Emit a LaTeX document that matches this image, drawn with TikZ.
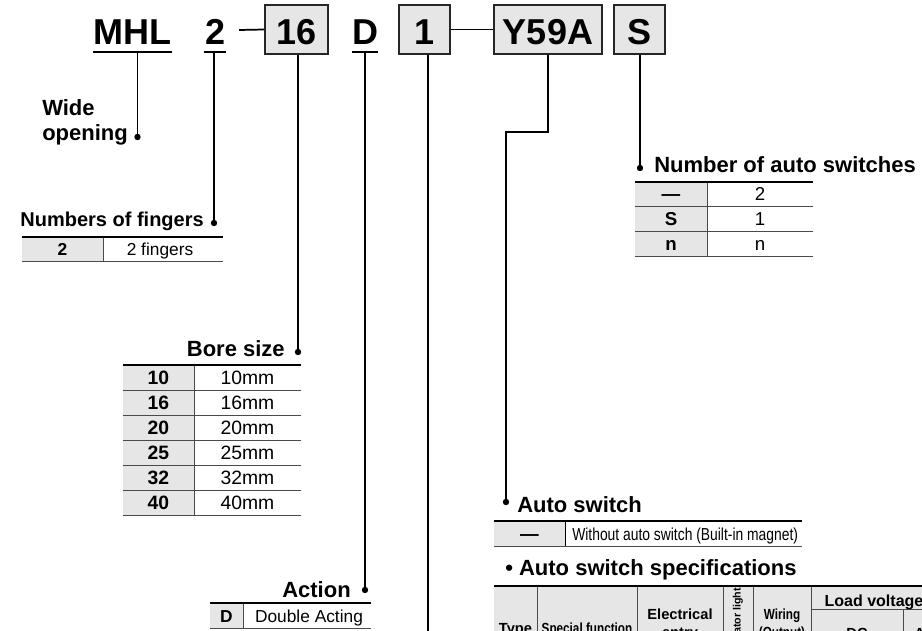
\documentclass[tikz,border=0pt]{standalone}
\usepackage{fontspec}
\setmainfont{Liberation Sans}
\definecolor{cellgray}{HTML}{E6E6E6}
\definecolor{rulegray}{HTML}{4A4A4A}
\newcommand\fHdr{\fontsize{27}{27}\selectfont\bfseries}
\newcommand\fHead{\fontsize{16.5}{18}\selectfont\bfseries}
\newcommand\fHeadS{\fontsize{15}{16}\selectfont\bfseries}
\newcommand\fCellR{\fontsize{13}{14}\selectfont}
\newcommand\fCellB{\fontsize{13}{14}\selectfont\bfseries}
\newcommand\fBoreR{\fontsize{14.5}{15}\selectfont}
\newcommand\fBoreB{\fontsize{14.5}{15}\selectfont\bfseries}
\newcommand\fNumR{\fontsize{14}{15}\selectfont}
\newcommand\fNumB{\fontsize{14}{15}\selectfont\bfseries}
\newcommand\fSpec{\fontsize{11}{12}\selectfont\bfseries}
\newcommand\fSpecL{\fontsize{12}{13}\selectfont\bfseries}
\newcommand\fSpecXS{\fontsize{8}{9}\selectfont\bfseries}
\begin{document}
\begin{tikzpicture}[x=0.75pt,y=-0.75pt,
  hdr/.style={font=\fHdr, inner sep=0pt},
  codebox/.style={draw=black!85, line width=1.1pt, fill=cellgray, inner sep=0pt,
    minimum height=36.75pt, font=\fHdr, text height=23pt, text depth=0pt},
  conn/.style={line width=1.3pt},
  uline/.style={line width=1.2pt},
  dotn/.style={circle, fill=black, inner sep=0pt, minimum size=4.8pt},
  head/.style={font=\fHead, inner sep=0pt},
  toprule/.style={line width=1.3pt},
  midrule/.style={line width=0.75pt, draw=rulegray},
  cell/.style={inner sep=0pt, anchor=base},
  spec/.style={inner sep=0pt, anchor=base, font=\fSpec},
]
\useasboundingbox (0,0) rectangle (922,631);
\clip (0,0) rectangle (922,631);

% ---------- model code ----------
\node[hdr, anchor=base west] (mhl) at (93,45) {MHL};
\node[hdr, anchor=base] (two) at (216,45) {2};
\node[codebox, minimum width=47.25pt] (b16) at (296.5,29.5) {16};
\node[hdr, anchor=base] (dd) at (365,45) {D};
\node[codebox, minimum width=38.25pt] (b1) at (424.5,29.5) {1};
\node[codebox, minimum width=81pt] (bY) at (548,29.5) {Y59A};
\node[codebox, minimum width=38.25pt] (bS) at (639.5,29.5) {S};

\coordinate (mhlU) at ([yshift=-5.25pt]mhl.base);
\coordinate (twoU) at ([yshift=-5.25pt]two.base);
\coordinate (ddU) at ([yshift=-5.25pt]dd.base);
\draw[uline] ([yshift=-5.25pt]mhl.base west) -- ([yshift=-5.25pt]mhl.base east);
\draw[uline] ([yshift=-5.25pt,xshift=-1pt]two.base west) -- ([yshift=-5.25pt]two.base east);
\draw[uline] ([yshift=-5.25pt]dd.base west) -- ([yshift=-5.25pt]dd.base east);

\coordinate (dashL) at (239,30);
\draw[conn] (dashL) -- (b16.west);
\draw[conn] (b1.east) -- (bY.west);

% ---------- dots ----------
\node[dotn] (dWide) at (137.5,137) {};
\node[dotn] (dFing) at (214,223) {};
\node[dotn] (dBore) at (298,352) {};
\node[dotn] (dAct) at (365,590) {};
\node[dotn] (dNum) at (640,168) {};
\node[dotn] (dAuto) at (506,502) {};
\coordinate (bendY) at (506,132);
\coordinate (endOne) at (428,640);

\draw[conn] (dWide) -- (dWide |- mhlU);
\draw[conn] (dFing) -- (dFing |- twoU);
\draw[conn] (dBore) -- (dBore |- b16.south);
\draw[conn] (dAct) -- (dAct |- ddU);
\draw[conn] (endOne) -- (endOne |- b1.south);
\draw[conn] (bY.south) |- (bendY) -- (dAuto);
\draw[conn] (dNum) -- (dNum |- bS.south);

% ---------- headings ----------
\node[head, anchor=base west] (hWide1) at (42,116) {Wide};
\node[head, anchor=base west] (hWide2) at (42,141) {opening};
\node[head, font=\fHeadS, anchor=base east] (hFing) at (204,227) {Numbers of fingers};
\node[head, anchor=base east] (hBore) at (285,357) {Bore size};
\node[head, anchor=base east] (hAct) at (351,597) {Action};
\node[head, anchor=base west] (hNum) at (654,173) {Number of auto switches};
\node[head, anchor=base west] (hAuto) at (517,512) {Auto switch};
\node[head, anchor=base west] (hSpec) at (505,575) {• Auto switch specifications};

% ---------- fingers table ----------
\fill[cellgray] (22,237) rectangle (103,262);
\draw[midrule] (103,237) -- (103,262);
\draw[midrule] (22,262) -- (223,262);
\draw[toprule] (22,237) -- (223,237);
\node[cell, font=\fCellB] (f1k) at (62.5,256) {2};
\node[cell, font=\fCellR] (f1v) at (160,256) {2 fingers};

% ---------- bore table ----------
\fill[cellgray] (123,365) rectangle (194,515);
\draw[midrule] (194,365) -- (194,515);
\foreach \r in {390,415,440,465,490,515} \draw[midrule] (123,\r) -- (301,\r);
\draw[toprule] (123,365) -- (301,365);
\node[cell, font=\fBoreB] (bk1) at (158.5,384.5) {10};
\node[cell, font=\fBoreR] (bv1) at (247.5,384.5) {10mm};
\node[cell, font=\fBoreB] (bk2) at (158.5,409.5) {16};
\node[cell, font=\fBoreR] (bv2) at (247.5,409.5) {16mm};
\node[cell, font=\fBoreB] (bk3) at (158.5,434.5) {20};
\node[cell, font=\fBoreR] (bv3) at (247.5,434.5) {20mm};
\node[cell, font=\fBoreB] (bk4) at (158.5,459.5) {25};
\node[cell, font=\fBoreR] (bv4) at (247.5,459.5) {25mm};
\node[cell, font=\fBoreB] (bk5) at (158.5,484.5) {32};
\node[cell, font=\fBoreR] (bv5) at (247.5,484.5) {32mm};
\node[cell, font=\fBoreB] (bk6) at (158.5,509.5) {40};
\node[cell, font=\fBoreR] (bv6) at (247.5,509.5) {40mm};

% ---------- action table ----------
\fill[cellgray] (210,603) rectangle (243,628);
\draw[midrule] (243,603) -- (243,628);
\draw[midrule] (210,628) -- (371,628);
\draw[toprule] (210,603) -- (371,603);
\node[cell, font=\fCellB] (ak) at (226.5,622) {D};
\node[cell, font=\fCellR] (av) at (309,622) {Double Acting};

% ---------- number of auto switches table ----------
\fill[cellgray] (635,182) rectangle (707,257);
\draw[midrule] (707,182) -- (707,257);
\foreach \r in {207,232,257} \draw[midrule] (635,\r) -- (813,\r);
\draw[toprule] (635,182) -- (813,182);
\node[cell, font=\fNumB] (nk1) at (671,201) {—};
\node[cell, font=\fNumR] (nv1) at (760,201) {2};
\node[cell, font=\fNumB] (nk2) at (671,226) {S};
\node[cell, font=\fNumR] (nv2) at (760,226) {1};
\node[cell, font=\fNumB] (nk3) at (671,251) {n};
\node[cell, font=\fNumR] (nv3) at (760,251) {n};

% ---------- auto switch table ----------
\fill[cellgray] (494,521) rectangle (565,546);
\draw[midrule, draw=black] (565,521) -- (565,546);
\draw[midrule] (494,546) -- (802,546);
\draw[toprule] (494,521) -- (802,521);
\node[cell, font=\fNumB] (ak1) at (529.5,540) {—};
\node[cell, font=\fCellR, anchor=base west] (av1) at (572,540) {\scalebox{0.8}[1]{Without auto switch (Built-in magnet)}};

% ---------- specifications table ----------
\fill[cellgray] (494,586) rectangle (930,645);
\foreach \x in {537,637,723,753,811} \draw[midrule] (\x,586) -- (\x,645);
\draw[midrule] (811,609) -- (930,609);
\draw[midrule] (903,609) -- (903,645);
\draw[toprule] (494,586) -- (930,586);
\node[spec] (sType) at (515.5,633) {Type};
\node[spec] (sFunc) at (587,633) {\scalebox{0.8}[1]{Special function}};
\node[spec] (sElec1) at (680,619) {Electrical};
\node[spec] (sElec2) at (680,637) {entry};
\node[inner sep=0pt, font=\fSpecXS, rotate=90, anchor=east] (sInd) at (738,588) {Indicator light};
\node[spec] (sWir1) at (782,619) {\scalebox{0.8}[1]{Wiring}};
\node[spec] (sWir2) at (782,637) {\scalebox{0.8}[1]{(Output)}};
\node[spec, font=\fSpecL] (sLoad) at (874,606) {Load voltage};
\node[spec] (sDC) at (857,638) {DC};
\node[spec] (sAC) at (925,638) {AC};
\end{tikzpicture}
\end{document}
